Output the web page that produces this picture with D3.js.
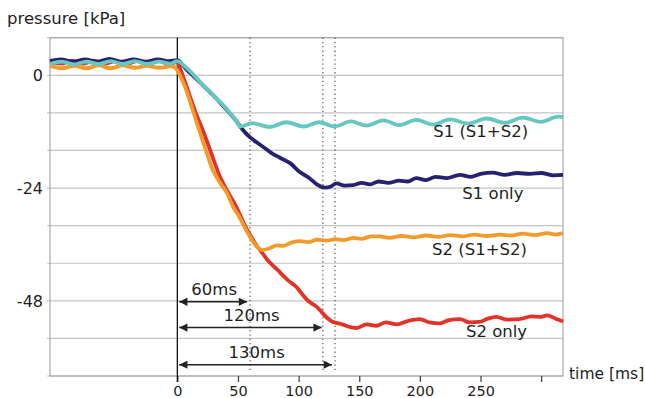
<!DOCTYPE html>
<html>
<head>
<meta charset="utf-8">
<script src="https://cdn.jsdelivr.net/npm/d3@7"></script>
<style>
  body { margin: 0; background: #fff; }
  text { font-family: "DejaVu Sans", sans-serif; fill: #1e1e1e; }
</style>
</head>
<body>
<div id="chart"></div>
<script>
'use strict';

// series, [time ms, pressure kPa]
const s2Only = [
  [-105, 2.9], [-96, 2.5], [-87, 3.1], [-78, 2.5], [-69, 3.1], [-60, 2.5], [-51, 3.0], [-42, 2.4],
  [-33, 3.0], [-24, 2.5], [-15, 3.0], [-7, 2.5], [0, 2.8], [2, 1.6], [6, -1.2], [10, -4.2],
  [15, -7.9], [21, -11.7], [27, -15.9], [31, -18.8], [35, -21.5], [42, -25.0], [49, -28.2],
  [55, -31.6], [60, -34.0], [66, -36.5], [70, -37.8], [74, -39.2], [78, -40.3], [83, -41.5],
  [87, -42.6], [92, -43.8], [98, -45.0], [103, -46.6], [107, -47.8], [111, -48.6], [115, -49.3],
  [119, -50.4], [123, -51.5], [127, -52.3], [131, -52.7], [136, -53.0], [140, -53.4], [148, -53.8],
  [156, -53.0], [164, -53.3], [172, -52.6], [181, -53.0], [190, -52.3], [200, -51.9], [208, -52.6],
  [216, -52.8], [224, -52.1], [233, -51.9], [241, -52.6], [249, -52.5], [256, -51.8], [263, -51.4],
  [272, -52.0], [282, -51.9], [292, -51.3], [300, -51.4], [305, -51.1], [312, -51.8], [318, -52.4]
];
const s2Both = [
  [-105, 2.0], [-95, 1.5], [-85, 2.0], [-75, 1.5], [-65, 2.1], [-55, 1.5], [-45, 2.1], [-35, 1.6],
  [-25, 2.0], [-15, 1.6], [-6, 1.9], [-2, 1.7], [0, 1.0], [4, -1.0], [8, -3.6], [12, -6.8],
  [16, -10.0], [20, -13.2], [24, -16.3], [29, -20.0], [35, -22.8], [41, -25.1], [46, -28.0],
  [51, -30.1], [56, -32.6], [60, -34.4], [66, -36.6], [70, -37.2], [76, -36.8], [82, -36.2],
  [87, -36.3], [94, -35.6], [101, -35.3], [108, -35.5], [115, -35.0], [123, -35.2], [130, -34.9],
  [137, -35.1], [145, -34.6], [152, -34.8], [160, -34.3], [167, -34.3], [175, -34.6], [185, -34.2],
  [195, -34.5], [205, -34.1], [215, -34.4], [225, -34.0], [235, -34.3], [245, -33.9], [255, -34.2],
  [266, -33.9], [275, -34.1], [285, -33.7], [295, -34.0], [305, -33.6], [312, -33.9], [318, -33.6]
];
const s1Only = [
  [-105, 3.0], [-96, 3.4], [-86, 2.9], [-76, 3.4], [-66, 2.9], [-56, 3.5], [-46, 2.9], [-36, 3.4],
  [-26, 2.9], [-16, 3.4], [-7, 3.0], [0, 3.2], [5, 2.0], [10, 0.6], [16, -0.8], [21, -2.1],
  [27, -3.6], [32, -4.9], [38, -6.6], [43, -8.0], [48, -9.5], [51, -10.6], [56, -12.2], [60, -13.2],
  [65, -14.2], [70, -15.1], [78, -16.6], [85, -17.6], [93, -18.7], [101, -20.6], [109, -21.9],
  [115, -23.2], [122, -23.9], [127, -23.6], [131, -23.0], [138, -23.5], [145, -23.4], [152, -22.9],
  [159, -23.2], [166, -22.6], [174, -22.9], [183, -22.4], [190, -22.6], [197, -21.9], [205, -22.3],
  [213, -21.6], [222, -21.9], [233, -21.2], [242, -21.6], [250, -21.0], [260, -20.7], [270, -21.2],
  [280, -20.8], [291, -21.0], [300, -20.8], [310, -21.3], [318, -21.2]
];
const s1Both = [
  [-105, 2.4], [-95, 2.9], [-85, 2.3], [-75, 2.9], [-65, 2.4], [-55, 3.0], [-45, 2.4], [-35, 3.0],
  [-25, 2.4], [-15, 2.9], [-6, 2.5], [0, 3.0], [5, 2.2], [10, 1.0], [16, -0.6], [21, -2.1],
  [27, -3.5], [32, -4.9], [38, -6.4], [43, -7.9], [48, -9.4], [52, -10.9], [62, -10.2], [76, -11.0],
  [90, -10.0], [104, -10.9], [117, -10.0], [130, -10.9], [143, -9.8], [156, -10.7], [170, -9.6],
  [183, -10.6], [197, -9.5], [211, -10.5], [225, -9.4], [240, -10.3], [255, -9.2], [270, -10.1],
  [285, -9.0], [300, -9.9], [314, -8.8], [318, -8.9]
];

const seriesNames  = ['S2 only', 'S2 (S1+S2)', 'S1 only', 'S1 (S1+S2)'];
const seriesData   = [s2Only, s2Both, s1Only, s1Both];
const seriesColors = ['#e2332b', '#f39a2c', '#27216f', '#66c6c0'];
// label anchor [time ms, pressure kPa]
const labelPos = [[238, -55.8], [210, -38.2], [235, -26.3], [211, -13.1]];

const yGrid   = [-64, -56, -48, -40, -32, -24, -16, -8, 0, 8];
const yLabels = [0, -24, -48];
const xTicks  = [0, 50, 100, 150, 200, 250, 300];
const xLabels = ['0', '50', '100', '150', '200', '250', ''];

const markers     = [60, 120, 130];
const arrowLevels = [-48.2, -53.7, -61.6];
const arrowEnds   = [57.5, 119, 127.5];
const arrowTexts  = ['60ms', '120ms', '130ms'];

const W = 645, H = 398;
const pLeft = 50, pRight = 563, pTop = 37.7, pBottom = 376;

const svg = d3.select('#chart').append('svg')
  .attr('width', W).attr('height', H);

const defs = svg.append('defs');
['start', 'end'].forEach(function(k) {
  defs.append('marker')
    .attr('id', 'arr-' + k)
    .attr('viewBox', '0 0 10 10')
    .attr('refX', k === 'end' ? 10 : 0).attr('refY', 5)
    .attr('markerWidth', 7).attr('markerHeight', 5.5)
    .attr('markerUnits', 'strokeWidth')
    .attr('orient', 'auto')
    .append('path')
    .attr('d', k === 'end' ? 'M0,0 L10,5 L0,10 Z' : 'M10,0 L0,5 L10,10 Z')
    .style('fill', '#222');
});

const x = d3.scaleLinear().domain([-105, 318]).range([pLeft, pRight]);
const y = d3.scaleLinear().domain([-64, 8]).range([pBottom, pTop]);

// grid
svg.append('g').selectAll('line')
  .data(yGrid)
  .enter().append('line')
  .attr('x1', pLeft - 3).attr('x2', pRight)
  .attr('y1', d => y(d)).attr('y2', d => y(d))
  .style('stroke', '#c4c4c4').style('stroke-width', 1.2);

// frame
svg.append('rect')
  .attr('x', pLeft).attr('y', pTop)
  .attr('width', pRight - pLeft).attr('height', pBottom - pTop)
  .style('fill', 'none').style('stroke', '#a8a8a8').style('stroke-width', 1.2);

// x axis ticks
const xAxis = svg.append('g')
  .attr('transform', `translate(0,${pBottom})`)
  .call(d3.axisBottom(x).tickValues(xTicks).tickSize(6).tickPadding(4)
    .tickFormat((d, i) => xLabels[i]));
xAxis.select('.domain').remove();
xAxis.selectAll('line').style('stroke', '#444').style('stroke-width', 1.3);
xAxis.selectAll('text')
  .style('font-family', '"DejaVu Sans", sans-serif')
  .style('font-size', '14.5px').style('fill', '#1e1e1e');

// y labels
svg.append('g').selectAll('text')
  .data(yLabels)
  .enter().append('text')
  .attr('x', 43).attr('y', d => y(d))
  .attr('dy', '0.36em')
  .attr('text-anchor', 'end')
  .style('font-size', '16px')
  .text(d => d);

// dotted markers
svg.append('g').selectAll('line')
  .data(markers)
  .enter().append('line')
  .attr('x1', d => x(d)).attr('x2', d => x(d))
  .attr('y1', pTop).attr('y2', pBottom - 3)
  .style('stroke', '#555').style('stroke-width', 1.2)
  .style('stroke-dasharray', '1.3,3');

// zero line
svg.append('line')
  .attr('x1', x(0)).attr('x2', x(0))
  .attr('y1', pTop).attr('y2', pBottom + 6)
  .style('stroke', '#111').style('stroke-width', 1.3);

// series
const line = d3.line()
  .x(d => x(d[0])).y(d => y(d[1]))
  .curve(d3.curveMonotoneX);

svg.append('g').selectAll('path')
  .data(seriesData)
  .enter().append('path')
  .attr('d', line)
  .style('fill', 'none')
  .style('stroke', (d, i) => seriesColors[i])
  .style('stroke-width', 3.8)
  .style('stroke-linejoin', 'round');

svg.append('g').selectAll('text')
  .data(seriesNames)
  .enter().append('text')
  .attr('x', (d, i) => x(labelPos[i][0]))
  .attr('y', (d, i) => y(labelPos[i][1]))
  .style('font-size', '16.5px')
  .text(d => d);

// arrows
svg.append('g').selectAll('line')
  .data(arrowEnds)
  .enter().append('line')
  .attr('x1', x(1.5)).attr('x2', d => x(d))
  .attr('y1', (d, i) => y(arrowLevels[i]))
  .attr('y2', (d, i) => y(arrowLevels[i]))
  .attr('marker-start', 'url(#arr-start)')
  .attr('marker-end', 'url(#arr-end)')
  .style('stroke', '#222').style('stroke-width', 1.5);

svg.append('g').selectAll('text')
  .data(arrowTexts)
  .enter().append('text')
  .attr('x', (d, i) => (x(0) + x(arrowEnds[i])) / 2 + 2)
  .attr('y', (d, i) => y(arrowLevels[i]) - 7)
  .attr('text-anchor', 'middle')
  .style('font-size', '16.5px')
  .text(d => d);

svg.append('text')
  .attr('x', 7).attr('y', 24)
  .style('font-size', '16.5px')
  .text('pressure [kPa]');

svg.append('text')
  .attr('x', 569).attr('y', 379)
  .style('font-size', '15.5px')
  .text('time [ms]');
</script>
</body>
</html>
